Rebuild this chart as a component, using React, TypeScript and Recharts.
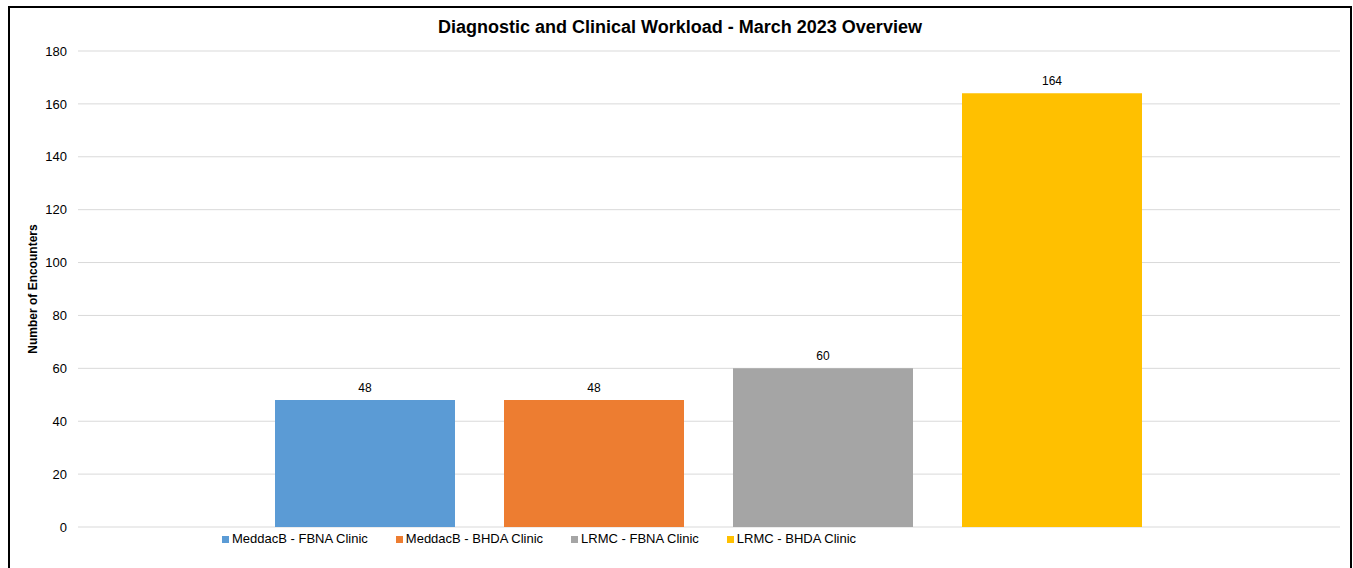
import { BarChart, Bar, XAxis, YAxis, CartesianGrid, LabelList } from 'recharts'

const categories = ['March 2023']
const seriesNames = ['MeddacB - FBNA Clinic', 'MeddacB - BHDA Clinic', 'LRMC - FBNA Clinic', 'LRMC - BHDA Clinic']
const seriesValues = [48, 48, 60, 164]
const yTicks = [0, 20, 40, 60, 80, 100, 120, 140, 160, 180]
const COLORS = ['#5b9bd5', '#ed7d31', '#a5a5a5', '#ffc000']

const data = categories.map((name) => {
  const row: Record<string, string | number> = { name }
  seriesNames.forEach((s, i) => {
    row['s' + i] = seriesValues[i]
  })
  return row
})

const FONT = 'Arial, "Liberation Sans", sans-serif'

function YTitle({ viewBox }: any) {
  const cx = 23
  const cy = viewBox.y + viewBox.height / 2
  return (
    <text
      x={cx}
      y={cy}
      transform={`rotate(-90 ${cx} ${cy})`}
      textAnchor="middle"
      dominantBaseline="central"
      fontSize={12}
      fontWeight="bold"
      fill="#000"
      fontFamily={FONT}
    >
      Number of Encounters
    </text>
  )
}

export default function App() {
  return (
    // fixed wrapper so the frame can run off the bottom edge without scrollbars
    <div style={{ position: 'fixed', inset: 0, overflow: 'hidden', background: '#fff' }}>
      <div
        style={{
          position: 'absolute',
          left: 8,
          top: 6,
          width: 1340,
          height: 564,
          border: '2px solid #000',
          background: '#fff',
          fontFamily: FONT,
        }}
      >
        <div
          style={{
            position: 'absolute',
            left: 0,
            top: 9,
            width: 1340,
            textAlign: 'center',
            fontSize: 18,
            fontWeight: 'bold',
            color: '#000',
            lineHeight: '20px',
          }}
        >
          Diagnostic and Clinical Workload - March 2023 Overview
        </div>

        <BarChart
          width={1340}
          height={560}
          data={data}
          margin={{ top: 43, right: 10, bottom: 41, left: 0 }}
          barCategoryGap={197}
          barGap={49}
        >
          <CartesianGrid vertical={false} stroke="#d9d9d9" />
          <XAxis dataKey="name" hide />
          <YAxis
            width={68}
            domain={[0, 180]}
            ticks={yTicks}
            interval={0}
            axisLine={false}
            tickLine={false}
            tickSize={0}
            tickMargin={11}
            tick={{ fontSize: 13, fill: '#000', fontFamily: FONT }}
            label={{ content: YTitle }}
          />
          {seriesNames.map((s, i) => (
            <Bar key={s} dataKey={'s' + i} name={s} fill={COLORS[i]} isAnimationActive={false}>
              <LabelList dataKey={'s' + i} position="top" offset={8} fontSize={12} fill="#000" fontFamily={FONT} />
            </Bar>
          ))}
        </BarChart>

        {/* legend drawn as html so it can sit left of centre like the original */}
        <div
          style={{
            position: 'absolute',
            left: 212,
            top: 523,
            display: 'flex',
            gap: 28,
            fontSize: 13,
            lineHeight: '16px',
            color: '#000',
          }}
        >
          {seriesNames.map((s, i) => (
            <span key={s} style={{ display: 'flex', alignItems: 'center' }}>
              <span style={{ width: 7, height: 7, background: COLORS[i], marginRight: 3 }} />
              {s}
            </span>
          ))}
        </div>
      </div>
    </div>
  )
}
